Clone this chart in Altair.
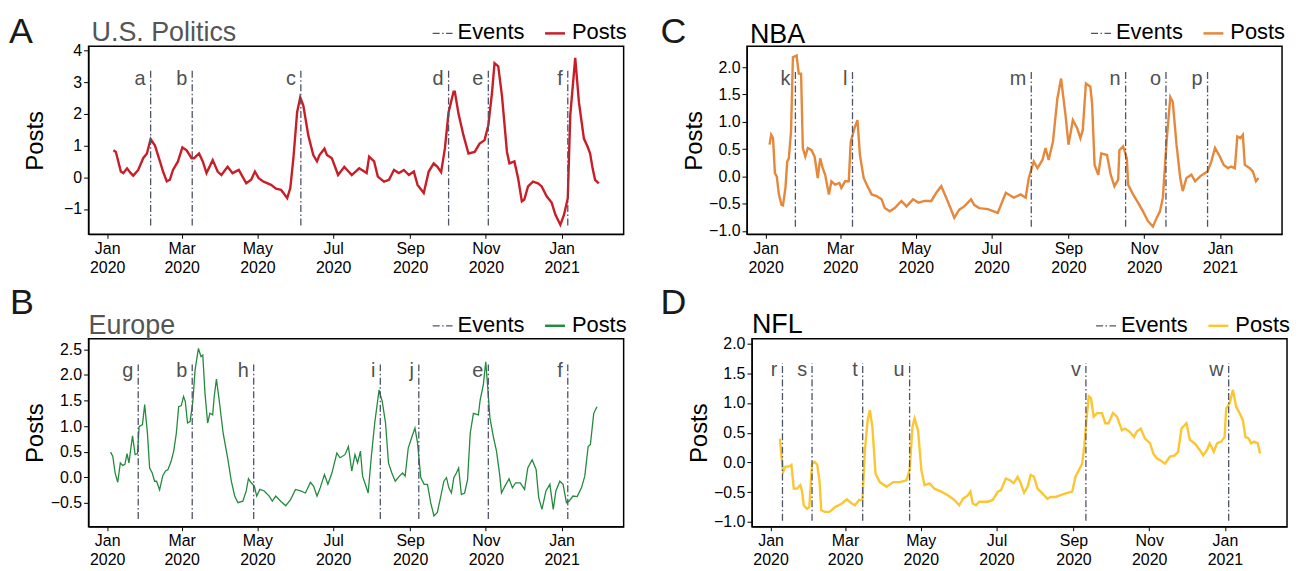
import altair as alt
import pandas as pd

# ---------------- data (day offset from 2020-01-01, value) ----------------
POLITICS_PTS = [(5,0.85),(7,0.8),(11,0.18),(13,0.13),(16,0.28),(19,0.13),(21,0.05),(25,0.23),(29,0.6),(32,0.75),
    (35,1.2),(38.5,1.0),(42.5,0.5),(45,0.18),(48,-0.13),(50.5,-0.08),(53,0.23),(57,0.5),(60.6,0.94),(64,0.85),
    (68,0.6),(70,0.6),(74,0.75),(77,0.5),(80,0.13),(85,0.54),(89,0.18),(92,0.07),(97,0.33),(101,0.13),
    (106,0.23),(112,-0.19),(116,-0.08),(119,0.18),(122,-0.03),(126,-0.14),(132,-0.24),(136,-0.36),(140,-0.4),(142,-0.5),
    (145,-0.66),(147.5,-0.34),(150,0.6),(153,2.05),(155.5,2.52),(158,2.26),(162,1.32),(166,0.7),(169,0.5),(171,0.7),
    (175,0.9),(177,0.7),(181,0.6),(186,0.07),(191,0.33),(197,0.07),(203,0.28),(209,0.13),(211,0.65),(215,0.5),
    (218,0.02),(223,-0.14),(227,-0.08),(231,0.23),(235,0.13),(239,0.23),(243,0.07),(247,0.18),(250,-0.24),(255,-0.5),
    (259,0.18),(263,0.44),(266,0.33),(269,0.16),(272,0.9),(275,2.05),(279,2.7),(280,2.7),(283,2.0),(287,1.32),
    (291,0.75),(296,0.8),(300,1.06),(304,1.17),(307,1.64),(310,2.68),(312,3.6),(315,3.5),(318,2.57),(322,0.8),
    (324,0.44),(328,0.5),(331,-0.03),(334,-0.76),(336,-0.7),(339,-0.29),(343,-0.14),(347,-0.19),(350,-0.29),(354,-0.6),
    (358,-0.8),(361,-1.18),(365,-1.5),(368,-1.18),(371,-0.66),(373,1.95),(377,3.77),(380,2.36),(384,1.22),(387,0.96),
    (389,0.75),(391,0.28),(393,-0.08),(396,-0.19)]

EUROPE_PTS = [(2.7,0.49),(4.5,0.41),(6.4,0.08),(8.5,-0.1),(10.6,0.28),(12.5,0.23),(14.3,0.25),(16,0.46),(17.5,0.28),(20.4,0.81),
    (22.5,0.44),(24.4,0.46),(25.7,0.99),(28.4,1.03),(30.2,1.42),(32.4,0.86),(34.2,0.18),(36.3,0.08),(38.2,-0.08),(39.8,-0.08),
    (42.2,-0.25),(44.8,0.03),(47,0.12),(49,0.15),(51.5,0.31),(53.6,0.51),(55.7,0.86),(57.6,1.38),(59.7,1.4),(61.5,1.58),
    (62.9,1.48),(64.7,1.06),(66.8,1.09),(69,1.48),(70.8,2.1),(73.5,2.52),(75.6,2.36),(77,2.39),(78.8,1.64),(80.9,1.06),
    (82.8,1.25),(85,1.22),(86.2,1.58),(88,1.92),(90.2,1.51),(93.4,0.86),(97.3,0.34),(100,-0.08),(102.7,-0.37),(105.3,-0.5),
    (109.3,-0.47),(112,-0.27),(113.8,-0.03),(116,-0.11),(118.6,-0.18),(120.4,-0.37),(123,-0.24),(126.5,-0.27),(130.5,-0.37),(133,-0.47),
    (135.8,-0.37),(139.8,-0.47),(143.8,-0.56),(147.7,-0.44),(151.7,-0.24),(155.7,-0.27),(159.7,-0.31),(163.7,-0.1),(166.3,-0.18),(169,-0.37),
    (171.6,-0.21),(175,0.05),(177.8,-0.14),(181,0.08),(185,0.47),(187.6,0.38),(191.6,0.44),(194.3,0.6),(197,0.12),(199.6,0.44),
    (201.7,0.28),(204,0.51),(205.7,0.02),(207.5,-0.11),(210.2,-0.31),(212.8,0.41),(215.5,1.06),(219,1.71),(221.6,1.48),(224.2,1.06),
    (226.6,0.28),(229.3,0.08),(232,-0.08),(235.4,0.02),(238,0.08),(240,0.02),(242.5,0.57),(245.2,0.77),(247.9,0.96),(250,0.67),
    (252.6,-0.01),(255.3,-0.14),(258,-0.14),(260.6,-0.5),(263.2,-0.76),(265.9,-0.69),(268.5,-0.4),(271.2,-0.08),(273.3,-0.01),(275.2,-0.21),
    (277.3,-0.31),(279.2,-0.01),(281.3,0.08),(283.1,0.18),(285.3,-0.34),(287.9,-0.31),(290.3,-0.05),(292.4,0.86),(295,1.25),(299,1.22),
    (300.4,1.51),(303,1.81),(304.9,2.26),(306.5,1.77),(308.3,1.16),(311,0.8),(313.6,0.51),(316.3,0.02),(317.6,-0.31),(320.3,-0.18),
    (323.7,-0.03),(326.4,-0.21),(329,-0.11),(332.7,-0.11),(336.2,-0.24),(338.8,0.18),(342.3,0.34),(345.5,0.15),(347.6,-0.4),(350.2,-0.63),
    (353.4,-0.27),(356.6,-0.14),(359.3,-0.63),(361.4,-0.27),(364.6,-0.08),(367.2,-0.14),(369.9,-0.5),(372,-0.47),(375.2,-0.37),(378.6,-0.38),
    (382,-0.21),(384.7,0.02),(387.4,0.6),(389.2,0.64),(391.9,1.25),(394.5,1.38)]

NBA_PTS = [(3.2,0.58),(4.5,0.76),(6,0.7),(7.5,0.06),(9,0),(10.7,-0.33),(12.8,-0.52),(14,-0.53),(16,-0.21),(17.4,0.27),
    (18.7,0.33),(20.5,0.82),(22,2.18),(25,2.21),(26.7,1.88),(28.6,1.88),(30,0.52),(32,0.36),(34,0.52),(37,0.48),
    (39.5,0.36),(42,-0.03),(44,0.33),(46,0.15),(48,0.03),(51,-0.33),(53,-0.09),(56,-0.15),(59.5,-0.12),(61,-0.21),
    (64,-0.09),(67,-0.09),(68.6,0.64),(72,0.91),(74,1.03),(76,0.39),(79,-0.03),(81.4,-0.15),(85.4,-0.33),(89.4,-0.36),
    (93.4,-0.42),(96,-0.58),(100,-0.64),(104,-0.58),(109.4,-0.45),(113.5,-0.55),(118.8,-0.42),(123,-0.48),(128,-0.45),(133.5,-0.45),
    (137.5,-0.3),(141.5,-0.18),(145.5,-0.39),(149.5,-0.61),(152,-0.76),(156,-0.61),(160,-0.55),(165.5,-0.42),(168,-0.52),(172,-0.58),
    (179,-0.6),(187,-0.67),(193.5,-0.3),(200,-0.39),(205.5,-0.33),(209.5,-0.39),(212,-0.03),(216,0.27),(219,0.15),(223,0.3),
    (225.5,0.52),(228,0.3),(231.5,0.64),(235,1.42),(238,1.79),(241.6,1.12),(244,0.58),(247.5,1.03),(251,0.88),(253.6,0.7),
    (255.5,0.85),(258,1.7),(261.6,1.64),(263,1.33),(265,0.21),(268,0.03),(270.4,0.42),(275,0.39),(278,0.03),(281,-0.18),
    (284,-0.06),(285,0.48),(288,0.55),(291,0.33),(292,-0.15),(296,-0.33),(300,-0.48),(304,-0.64),(308,-0.82),(312,-0.92),
    (315,-0.76),(317.7,-0.64),(320,-0.39),(323,0.64),(326,1.45),(328,1.36),(331,0.58),(334,-0.03),(336,-0.27),(339,-0.03),
    (343,0.03),(346,-0.09),(350,0),(354,0.06),(356,0.09),(359,0.27),(362,0.52),(366,0.36),(369,0.21),(372.4,0.15),
    (375,0.18),(378,0.15),(380,0.73),(382.5,0.7),(384.4,0.76),(386,0.21),(390,0.15),(392.4,0.09),(395,-0.09),(397,-0.03)]

NFL_PTS = [(7.5,0.4),(8.8,0.1),(10.1,-0.16),(12,-0.07),(14.7,-0.07),(16.8,-0.04),(18.7,-0.44),(21.4,-0.44),(24,-0.38),(25.4,-0.49),
    (26.7,-0.72),(29.4,-0.78),(31.2,-0.75),(33.4,-0.02),(35.5,0.01),(37.6,-0.04),(39.5,-0.33),(40.8,-0.8),(43.5,-0.83),(47.5,-0.83),
    (52,-0.75),(57.4,-0.69),(61.4,-0.62),(65.4,-0.69),(68,-0.72),(71.3,-0.63),(74,-0.63),(76,0.21),(78.2,0.71),(80,0.88),
    (82,0.6),(84.6,-0.19),(88,-0.33),(93.4,-0.41),(98.8,-0.33),(104,-0.33),(109.4,-0.3),(112,-0.13),(114.3,0.6),(116,0.74),
    (118.8,0.54),(121.5,-0.13),(124,-0.38),(128,-0.35),(132,-0.44),(137.5,-0.49),(142.8,-0.55),(148,-0.63),(152,-0.72),(155,-0.61),
    (159,-0.55),(161,-0.49),(162.8,-0.69),(165.5,-0.72),(168,-0.66),(175,-0.66),(179,-0.63),(183,-0.49),(185.5,-0.47),(189.5,-0.27),
    (193,-0.3),(195.7,-0.35),(199,-0.24),(201.5,-0.35),(204.2,-0.51),(207,-0.41),(209.5,-0.21),(212.2,-0.24),(215,-0.44),(217.6,-0.49),
    (220.2,-0.55),(223,-0.61),(225.6,-0.58),(229.6,-0.58),(233.6,-0.55),(239,-0.51),(243,-0.49),(245.6,-0.24),(248.3,-0.13),(251,-0.02),
    (252.8,0.29),(254.4,0.71),(256.3,1.11),(258.1,1.08),(260.3,0.77),(263,0.83),(267,0.83),(269.6,0.66),(272.3,0.66),(275.8,0.83),
    (279,0.77),(283,0.54),(285.6,0.57),(289,0.52),(292.8,0.43),(295,0.52),(298.2,0.57),(301.6,0.4),(305.7,0.32),(308.3,0.15),
    (311,0.07),(313.7,0.04),(317.7,-0.02),(321.7,0.1),(325.7,0.12),(328.3,0.18),(331,0.57),(335,0.66),(337.7,0.38),(341.7,0.32),
    (345.7,0.21),(348.4,0.12),(351.6,0.21),(353.7,0.32),(357,0.18),(359.6,0.32),(363,0.35),(365.7,0.43),(367,0.91),(369.7,0.99),
    (372.4,1.22),(375,0.94),(377.7,0.83),(380.4,0.71),(382.5,0.43),(385.2,0.4),(387,0.32),(389.7,0.35),(392.4,0.32),(394.3,0.15)]

# events: (label, day offset from 2020-01-01)
POLITICS_EVENTS = [("a", 35), ("b", 68.5), ("c", 156), ("d", 275), ("e", 307), ("f", 371)]
EUROPE_EVENTS = [("g", 25), ("b", 68.5), ("h", 118), ("i", 220), ("j", 251), ("e", 307), ("f", 371)]
NBA_EVENTS = [("k", 24), ("l", 70), ("m", 214), ("n", 290), ("o", 322.5), ("p", 356)]
NFL_EVENTS = [("r", 9.6), ("s", 33.4), ("t", 74.2), ("u", 112), ("v", 254), ("w", 369)]

POLITICS_TICKS = [-1, 0, 1, 2, 3, 4]
EUROPE_TICKS = [-0.5, 0.0, 0.5, 1.0, 1.5, 2.0, 2.5]
NBA_TICKS = [-1.0, -0.5, 0.0, 0.5, 1.0, 1.5, 2.0]
NFL_TICKS = [-1.0, -0.5, 0.0, 0.5, 1.0, 1.5, 2.0]

BASE = pd.Timestamp("2020-01-01")
FONT = "Liberation Sans"
EV_COLOR = "#4d5468"
EV_DASH = [7, 2.5, 1.5, 2.5]
W, H = 538, 189


def day_str(d):
    return (BASE + pd.Timedelta(hours=round(d * 24))).strftime("%Y-%m-%dT%H:%M:%S")


def one():
    return pd.DataFrame({"k": [0]})


def panel(pts, events, color, lw, ydom, yticks, yfmt, ev_lo, ev_hi, ev_ly,
          letter, letter_dx, letter_dy, title, title_color, title_dx, title_dy):
    df = pd.DataFrame({"date": [day_str(d) for d, _ in pts], "value": [v for _, v in pts]})
    ev = pd.DataFrame({"date": [day_str(d) for _, d in events], "label": [l for l, _ in events],
                       "lo": ev_lo, "hi": ev_hi, "ly": ev_ly})
    xscale = alt.Scale(domain=[alt.DateTime(year=2019, month=12, date=17),
                               alt.DateTime(year=2021, month=2, date=20)])
    xaxis = alt.Axis(
        values=[alt.DateTime(year=2020, month=m, date=1) for m in (1, 3, 5, 7, 9, 11)]
        + [alt.DateTime(year=2021, month=1, date=1)],
        labelExpr="[timeFormat(datum.value, '%b'), timeFormat(datum.value, '%Y')]",
        title=None, labelFontSize=16, labelLineHeight=19, tickSize=4, labelPadding=2,
        grid=False, domainColor="black", tickColor="black", labelColor="black", labelFont=FONT)
    yscale = alt.Scale(domain=ydom, nice=False, zero=False)
    yaxis = alt.Axis(values=yticks, format=yfmt, title="Posts", titleX=-46, titleY=H / 2,
                     titleAngle=270, titleAlign="center", titleBaseline="alphabetic",
                     titleFontSize=24, titleFontWeight="normal", titleFont=FONT, titleColor="black",
                     labelFontSize=16, labelFont=FONT, labelColor="black", tickSize=5, labelPadding=2,
                     grid=False, domainColor="black", tickColor="black")
    X = alt.X("date:T", scale=xscale, axis=xaxis)

    line = alt.Chart(df).mark_line(color=color, strokeWidth=lw).encode(
        x=X, y=alt.Y("value:Q", scale=yscale, axis=yaxis))
    rules = alt.Chart(ev).mark_rule(color=EV_COLOR, strokeDash=EV_DASH, strokeWidth=1.3).encode(
        x=X, y=alt.Y("lo:Q", scale=yscale, axis=yaxis), y2="hi:Q")
    labels = alt.Chart(ev).mark_text(align="right", dx=-5, baseline="alphabetic", fontSize=20,
                                     font=FONT, color="#505050").encode(
        x=X, y=alt.Y("ly:Q", scale=yscale, axis=yaxis), text="label:N")
    letter_t = alt.Chart(one()).mark_text(align="left", baseline="alphabetic", fontSize=36,
                                          font=FONT, color="#1a1a1a").encode(
        x=alt.value(letter_dx), y=alt.value(letter_dy), text=alt.value(letter))
    title_t = alt.Chart(one()).mark_text(align="left", baseline="alphabetic", fontSize=27,
                                         font=FONT, color=title_color).encode(
        x=alt.value(title_dx), y=alt.value(title_dy), text=alt.value(title))
    leg_ev = alt.Chart(one()).mark_rule(color=EV_COLOR, strokeDash=EV_DASH, strokeWidth=1.3).encode(
        x=alt.value(346), x2=alt.value(366), y=alt.value(-13))
    leg_ev_t = alt.Chart(one()).mark_text(align="left", baseline="alphabetic", fontSize=22,
                                          font=FONT, color="black").encode(
        x=alt.value(371), y=alt.value(-7), text=alt.value("Events"))
    leg_p = alt.Chart(one()).mark_rule(color=color, strokeWidth=2.5).encode(
        x=alt.value(459), x2=alt.value(479), y=alt.value(-13))
    leg_p_t = alt.Chart(one()).mark_text(align="left", baseline="alphabetic", fontSize=22,
                                         font=FONT, color="black").encode(
        x=alt.value(486), y=alt.value(-7), text=alt.value("Posts"))
    return alt.layer(line, rules, labels, letter_t, title_t, leg_ev, leg_ev_t, leg_p, leg_p_t).properties(
        width=W, height=H)


pA = panel(POLITICS_PTS, POLITICS_EVENTS, "#c81e28", 2.4, [-1.8, 4.13], POLITICS_TICKS, "d",
           -1.52, 3.38, 2.9, "A", -80, -3, "U.S. Politics", "#555555", 3, -5)
pB = panel(EUROPE_PTS, EUROPE_EVENTS, "#238a3e", 1.3, [-0.97, 2.71], EUROPE_TICKS, ".1f",
           -0.82, 2.23, 1.96, "B", -79, -25, "Europe", "#555555", 0, -5)
pC = panel(NBA_PTS, NBA_EVENTS, "#e5883b", 2.4, [-1.06, 2.38], NBA_TICKS, ".1f",
           -0.92, 1.94, 1.67, "C", -87, -3, "NBA", "black", 3, -3)
pD = panel(NFL_PTS, NFL_EVENTS, "#fcc632", 2.4, [-1.08, 2.08], NFL_TICKS, ".1f",
           -0.98, 1.67, 1.46, "D", -92, -25, "NFL", "black", 0, -6)

chart = alt.vconcat(
    alt.hconcat(pA, pC, spacing=32),
    alt.hconcat(pB, pD, spacing=32),
    spacing=8,
).properties(
    padding={"left": 0, "top": 4, "right": 0, "bottom": 0}
).configure(
    background="white",
    view=alt.ViewConfig(stroke="black", strokeWidth=1.5),
)

chart.save("out.html", embed_options={"renderer": "svg", "actions": False})
